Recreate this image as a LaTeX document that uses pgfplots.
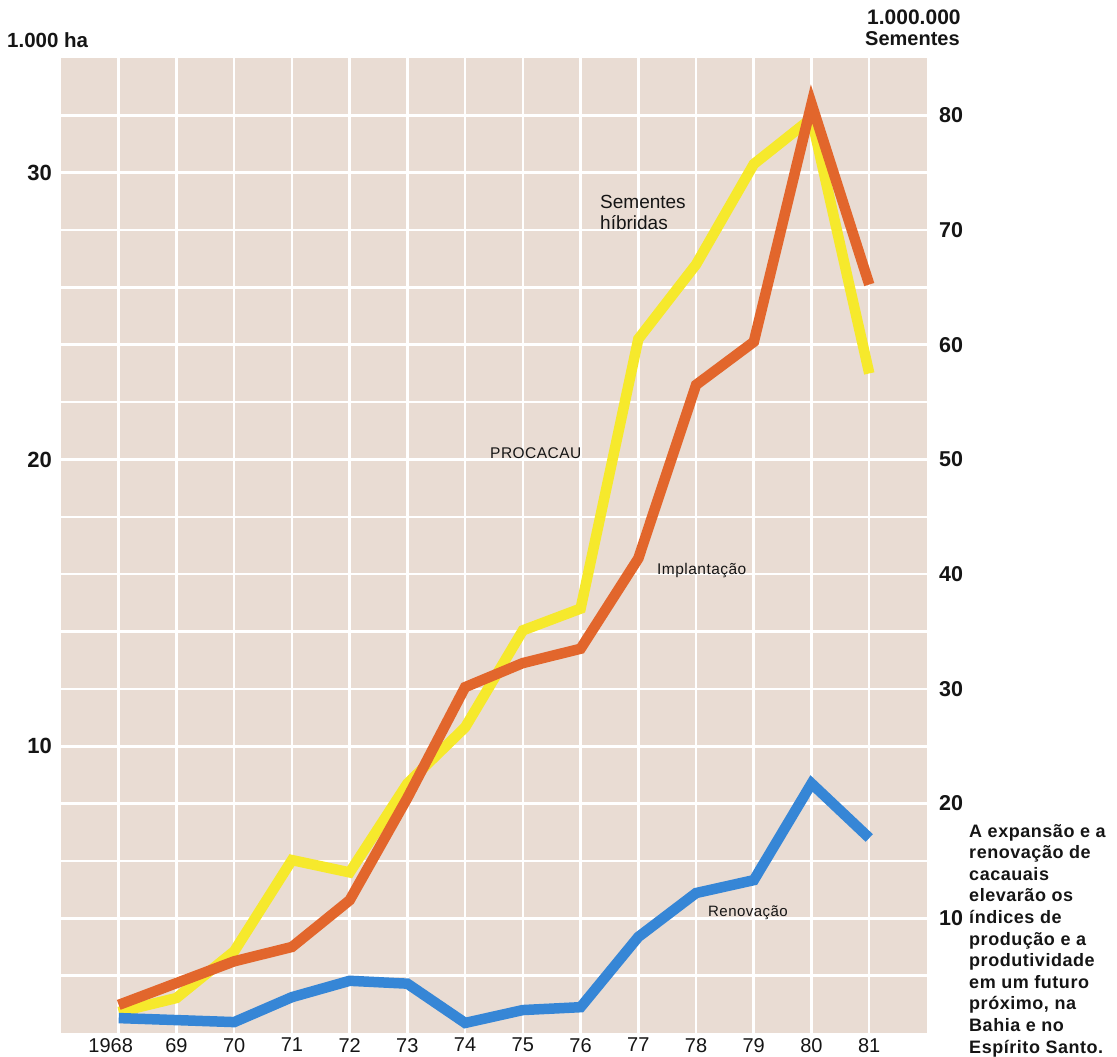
\documentclass[border=0pt]{standalone}
\usepackage{fontspec}
\setmainfont{Liberation Sans}
\usepackage{pgfplots}
\pgfplotsset{compat=1.18}
\definecolor{bg}{HTML}{E9DCD3}
\definecolor{cyel}{HTML}{F6E92C}
\definecolor{corg}{HTML}{E2662C}
\definecolor{cblu}{HTML}{3686D6}
\definecolor{txt}{HTML}{151515}
\begin{document}
\begin{tikzpicture}
\useasboundingbox (-61pt,-24pt) rectangle (1056pt,1033pt);
\begin{axis}[
  at={(0pt,0pt)}, anchor=south west,
  scale only axis, width=866pt, height=975pt,
  xmin=1967, xmax=1982, ymin=0, ymax=34,
  axis background/.style={fill=bg},
  axis line style={draw=none},
  major tick length=0pt,
  grid=major, major grid style={white, line width=2.6pt},
  xtick={1968,...,1981},
  xticklabels={\hspace*{-16pt}1968,69,\raisebox{-3pt}{70},71,72,73,74,75,76,77,78,79,80,\raisebox{-3pt}{81}},
  ytick={2,4,...,32},
  yticklabels={,,,,10,,,,,20,,,,,30,},
  x tick label style={font=\fontsize{20}{24}\selectfont, text=txt, inner sep=0pt, anchor=north, yshift=-5pt},
  y tick label style={font=\fontsize{22}{26}\selectfont\bfseries, text=txt, inner sep=0pt, anchor=east, xshift=-9pt},
]
\addplot[cyel, line width=10.5pt, line join=miter] coordinates {
(1968,0.73) (1969,1.22) (1970,2.85) (1971,6.03) (1972,5.6) (1973,8.7) (1974,10.66)
(1975,14.04) (1976,14.8) (1977,24.2) (1978,26.8) (1979,30.3) (1980,31.9) (1981,23.0)};
\addplot[corg, line width=10.5pt, line join=miter] coordinates {
(1968,0.98) (1969,1.74) (1970,2.5) (1971,3.0) (1972,4.63) (1973,8.2) (1974,12.06)
(1975,12.9) (1976,13.4) (1977,16.55) (1978,22.6) (1979,24.1) (1980,32.4) (1981,26.1)};
\addplot[cblu, line width=10.5pt, line join=miter] coordinates {
(1968,0.52) (1969,0.45) (1970,0.38) (1971,1.25) (1972,1.82) (1973,1.72) (1974,0.35)
(1975,0.8) (1976,0.9) (1977,3.35) (1978,4.88) (1979,5.33) (1980,8.7) (1981,6.8)};
\end{axis}
\begin{axis}[
  at={(0pt,0pt)}, anchor=south west,
  scale only axis, width=866pt, height=975pt,
  xmin=1967, xmax=1982, ymin=0, ymax=85,
  hide x axis, axis y line*=right, axis line style={draw=none},
  major tick length=0pt,
  ytick={10,20,...,80},
  /pgf/number format/assume math mode=true,
  y tick label style={font=\fontsize{21.5}{26}\selectfont\bfseries, text=txt, inner sep=0pt, anchor=west, xshift=12pt},
]
\addplot[draw=none] coordinates {(1968,0)};
\end{axis}
\node[anchor=base west, inner sep=0pt, text=txt, font=\fontsize{20.5}{24}\selectfont\bfseries] at (-54pt,985pt) {1.000 ha};
\node[anchor=base west, inner sep=0pt, text=txt, font=\fontsize{21}{24}\selectfont\bfseries] at (806pt,1008pt) {1.000.000};
\node[anchor=base west, inner sep=0pt, text=txt, font=\fontsize{20}{24}\selectfont\bfseries] at (804pt,987pt) {Sementes};
\node[anchor=base west, inner sep=0pt, text=txt, font=\fontsize{19}{21}\selectfont] at (539pt,824pt) {Sementes};
\node[anchor=base west, inner sep=0pt, text=txt, font=\fontsize{19}{21}\selectfont] at (539pt,803pt) {híbridas};
\node[anchor=base west, inner sep=0pt, text=txt, font=\fontsize{15.5}{18}\selectfont\addfontfeatures{LetterSpace=3}] at (429pt,574pt) {PROCACAU};
\node[anchor=base west, inner sep=0pt, text=txt, font=\fontsize{15.5}{18}\selectfont\addfontfeatures{LetterSpace=3}] at (596pt,458pt) {Implantação};
\node[anchor=base west, inner sep=0pt, text=txt, font=\fontsize{15}{18}\selectfont\addfontfeatures{LetterSpace=3}] at (647pt,116pt) {Renovação};
\node[anchor=north west, inner sep=0pt, align=left, text=txt, font=\fontsize{18}{21.6}\selectfont\bfseries\addfontfeatures{LetterSpace=3}] at (908pt,209pt)
{A expansão e a\\renovação de\\cacauais\\elevarão os\\índices de\\produção e a\\produtividade\\em um futuro\\próximo, na\\Bahia e no\\Espírito Santo.};
\end{tikzpicture}
\end{document}
